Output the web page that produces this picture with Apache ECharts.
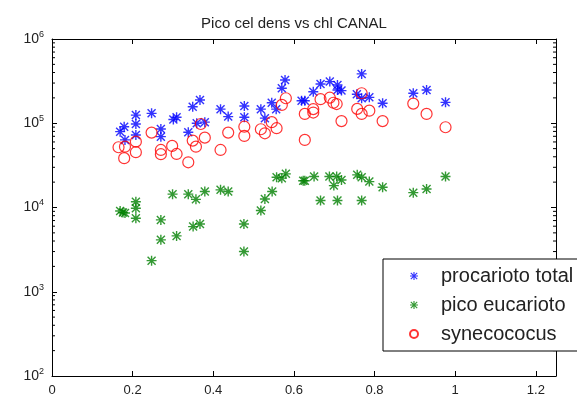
<!DOCTYPE html>
<html>
<head>
<meta charset="utf-8">
<script src="https://cdn.jsdelivr.net/npm/echarts@6/dist/echarts.min.js"></script>
<style>
  html, body { margin: 0; padding: 0; background: #fff; }
  #chart { width: 577px; height: 400px; }
</style>
</head>
<body>
<div id="chart"></div>
<script>
// chl (x) vs cell density (y)
var procarioto = [
  [0.169, 79500], [0.179, 91000], [0.181, 63400], [0.208, 125000], [0.208, 98000], [0.208, 72600],
  [0.247, 131000], [0.270, 85500], [0.270, 69300], [0.301, 111000], [0.309, 118000], [0.338, 78200],
  [0.349, 157000], [0.359, 100000], [0.367, 189000], [0.379, 103000], [0.418, 147000], [0.437, 120000],
  [0.477, 160000], [0.477, 118000], [0.518, 147000], [0.528, 115000], [0.545, 175000], [0.556, 147000],
  [0.570, 260000], [0.578, 326000], [0.619, 185000], [0.627, 185000], [0.648, 237000], [0.666, 292000],
  [0.689, 312000], [0.708, 285000], [0.708, 248000], [0.718, 244000], [0.756, 221000], [0.768, 385000],
  [0.768, 198000], [0.787, 203000], [0.820, 173000], [0.896, 227000], [0.929, 248000], [0.976, 177000]
];
var picoEucarioto = [
  [0.169, 9100], [0.176, 8700], [0.181, 8600], [0.208, 11700], [0.208, 9800], [0.208, 7460],
  [0.247, 2340], [0.270, 7130], [0.270, 4130], [0.299, 14400], [0.309, 4600], [0.338, 14400],
  [0.350, 5930], [0.357, 12500], [0.367, 6380], [0.379, 15500], [0.418, 16200], [0.437, 15500],
  [0.476, 6380], [0.476, 3000], [0.518, 9200], [0.528, 12600], [0.546, 15500], [0.557, 22900],
  [0.570, 22300], [0.580, 25100], [0.623, 20800], [0.627, 20800], [0.650, 23300], [0.666, 12100],
  [0.688, 23300], [0.699, 18200], [0.706, 23300], [0.708, 12100], [0.718, 21200], [0.757, 24400],
  [0.768, 22900], [0.768, 12100], [0.787, 20300], [0.820, 17400], [0.896, 15000], [0.929, 16600],
  [0.976, 23300]
];
var synecococus = [
  [0.165, 51900], [0.181, 52700], [0.179, 38500], [0.208, 60500], [0.208, 45300], [0.247, 77400],
  [0.270, 48200], [0.270, 42900], [0.298, 53800], [0.309, 43200], [0.338, 34400], [0.349, 62200],
  [0.357, 52700], [0.369, 98000], [0.379, 67500], [0.418, 48200], [0.437, 77400], [0.477, 91000],
  [0.477, 70700], [0.518, 84900], [0.528, 76000], [0.545, 103000], [0.557, 87300], [0.570, 165000],
  [0.580, 198000], [0.627, 129000], [0.627, 63400], [0.648, 147000], [0.648, 134000], [0.666, 193000],
  [0.689, 201000], [0.698, 175000], [0.706, 169000], [0.718, 106000], [0.757, 148000], [0.768, 227000],
  [0.768, 129000], [0.787, 141000], [0.820, 106000], [0.896, 171000], [0.929, 129000], [0.976, 89700]
];
var seriesNames = ['procarioto total', 'pico eucarioto', 'synecococus'];
var xTicks = [0, 0.2, 0.4, 0.6, 0.8, 1, 1.2];
// minor ticks of the log axis: 2..9 in every decade
var yMinor = [200, 300, 400, 500, 600, 700, 800, 900,
  2000, 3000, 4000, 5000, 6000, 7000, 8000, 9000,
  20000, 30000, 40000, 50000, 60000, 70000, 80000, 90000,
  200000, 300000, 400000, 500000, 600000, 700000, 800000, 900000];

var chart = echarts.init(document.getElementById('chart'));
var font = 'Liberation Sans, Arial, Helvetica, sans-serif';
// asterisk marker like matlab '*'
var star = 'path://M4.3 0H5.7V10H4.3Z M0 4.3H10V5.7H0Z M0.5 1.5L1.5 0.5L9.5 8.5L8.5 9.5Z M8.5 0.5L9.5 1.5L1.5 9.5L0.5 8.5Z';

var option = {
  animation: false,
  backgroundColor: '#fff',
  title: {
    text: 'Pico cel dens vs chl CANAL',
    left: 289,
    textAlign: 'center',
    top: 11,
    textStyle: { fontFamily: font, fontSize: 15, fontWeight: 'normal', color: '#222' }
  },
  legend: {
    orient: 'vertical',
    left: 383,
    top: 259,
    padding: [7, 60, 7, 26],
    itemWidth: 8,
    itemHeight: 8,
    itemGap: 9,
    borderColor: '#000',
    borderWidth: 1,
    backgroundColor: '#fff',
    textStyle: { fontFamily: font, fontSize: 20, lineHeight: 20, color: '#222', padding: [0, 0, 0, 18] },
    data: seriesNames
  },
  grid: { left: 52, right: 21, top: 39, bottom: 24 },
  xAxis: [{
    type: 'value', min: 0, max: 1.25, interval: 0.2, position: 'bottom',
    splitLine: { show: false },
    axisLine: { onZero: false, lineStyle: { color: '#000' } },
    axisTick: { inside: true, length: 5, lineStyle: { color: '#000' } },
    axisLabel: {
      fontFamily: font, fontSize: 13, color: '#222', margin: 8,
      formatter: function (v) { return xTicks.indexOf(Math.round(v * 10) / 10) >= 0 && v <= 1.2 ? String(Math.round(v * 10) / 10) : ''; }
    }
  }, {
    type: 'value', min: 0, max: 1.25, interval: 0.2, position: 'top',
    splitLine: { show: false },
    axisLine: { onZero: false, lineStyle: { color: '#000' } },
    axisTick: { inside: true, length: 5, lineStyle: { color: '#000' } },
    axisLabel: { show: false }
  }],
  yAxis: [{
    type: 'log', logBase: 10, min: 100, max: 1000000, position: 'left',
    splitLine: { show: false },
    axisLine: { onZero: false, lineStyle: { color: '#000' } },
    axisTick: { inside: true, length: 5, lineStyle: { color: '#000' } },
    axisLabel: {
      fontFamily: font, fontSize: 14, color: '#222', margin: 8,
      formatter: function (v) { return '10{sup|' + Math.round(Math.log10(v)) + '}'; },
      rich: { sup: { fontFamily: font, fontSize: 9, color: '#222', padding: [0, 0, 9, 0] } }
    }
  }, {
    type: 'log', logBase: 10, min: 100, max: 1000000, position: 'right',
    splitLine: { show: false },
    axisLine: { onZero: false, lineStyle: { color: '#000' } },
    axisTick: { inside: true, length: 5, lineStyle: { color: '#000' } },
    axisLabel: { show: false }
  }],
  series: [{
    name: seriesNames[0], type: 'scatter', symbol: star, symbolSize: 10,
    itemStyle: { color: '#0000ff' },
    data: procarioto
  }, {
    name: seriesNames[1], type: 'scatter', symbol: star, symbolSize: 10,
    itemStyle: { color: '#008000' },
    data: picoEucarioto
  }, {
    name: seriesNames[2], type: 'scatter', symbol: 'circle', symbolSize: 11,
    itemStyle: { color: 'rgba(0,0,0,0)', borderColor: '#ff0000', borderWidth: 1.2 },
    data: synecococus
  }, {
    // minor ticks on left and right border
    type: 'custom', silent: true, z: 1,
    data: yMinor,
    renderItem: function (params, api) {
      var l = api.coord([0, api.value(0)]);
      var r = api.coord([1.25, api.value(0)]);
      return {
        type: 'group',
        children: [
          { type: 'line', shape: { x1: l[0], y1: l[1], x2: l[0] + 3, y2: l[1] }, style: { stroke: '#000', lineWidth: 1 } },
          { type: 'line', shape: { x1: r[0], y1: r[1], x2: r[0] - 3, y2: r[1] }, style: { stroke: '#000', lineWidth: 1 } }
        ]
      };
    },
    encode: { y: 0 }
  }]
};
chart.setOption(option);
</script>
</body>
</html>
